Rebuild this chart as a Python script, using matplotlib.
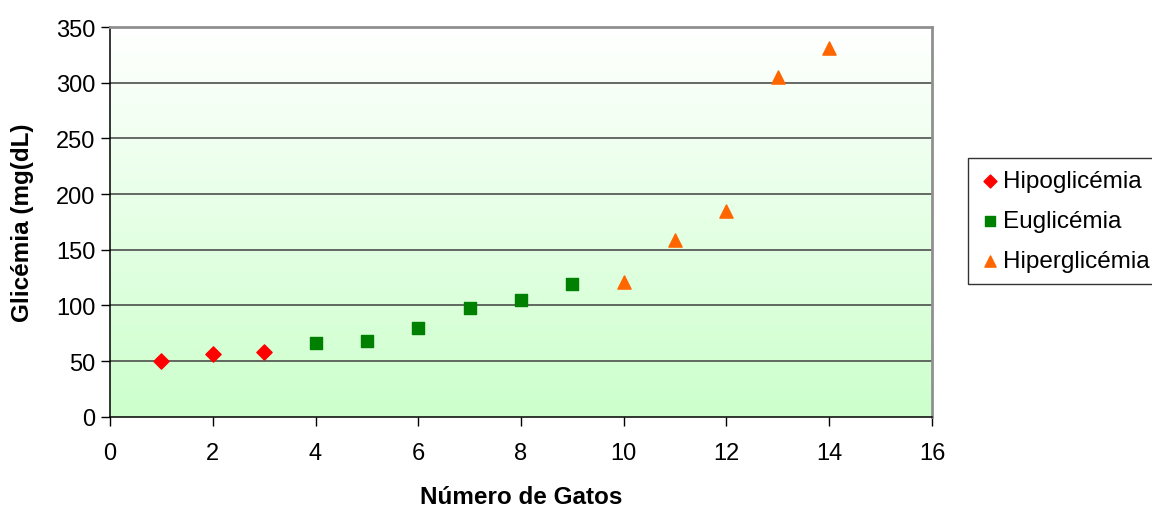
import matplotlib
matplotlib.use('Agg')
import matplotlib.pyplot as plt
import numpy as np

plt.rcParams['font.family'] = ['Liberation Sans', 'DejaVu Sans']

# data
hipo_x = [1, 2, 3]
hipo_y = [50, 56, 58]
eu_x = [4, 5, 6, 7, 8, 9]
eu_y = [66, 68, 80, 98, 105, 119]
hiper_x = [10, 11, 12, 13, 14]
hiper_y = [121, 159, 185, 305, 331]

fig = plt.figure(figsize=(11.52, 5.1), dpi=100)
ax = fig.add_axes([0.0955, 0.181, 0.7135, 0.764])

# white -> light green gradient background
grad = np.linspace(0, 1, 256).reshape(-1, 1)
top = np.array([1.0, 1.0, 1.0])
bot = np.array([204, 255, 204]) / 255
img = top + (bot - top) * grad[:, :, None]
ax.imshow(img, extent=[0, 1, 0, 1], transform=ax.transAxes, aspect='auto', zorder=0)

for y in range(50, 350, 50):
    ax.axhline(y, color='#404040', lw=1.1, zorder=1)

ax.scatter(hipo_x, hipo_y, marker='D', s=60, color='#ff0000', zorder=3, label='Hipoglicémia')
ax.scatter(eu_x, eu_y, marker='s', s=75, color='#008000', zorder=3, label='Euglicémia')
ax.scatter(hiper_x, hiper_y, marker='^', s=90, color='#ff6600', zorder=3, label='Hiperglicémia')

ax.set_xlim(0, 16)
ax.set_ylim(0, 350)
ax.set_xticks(range(0, 17, 2))
ax.set_yticks(range(0, 351, 50))
ax.tick_params(labelsize=17, direction='out', length=6.5, width=1, colors='black')
ax.tick_params(axis='x', pad=12)
ax.tick_params(axis='y', pad=4)

for s in ['left', 'bottom']:
    ax.spines[s].set_color('black')
    ax.spines[s].set_linewidth(1.1)
for s in ['top', 'right']:
    ax.spines[s].set_color('#909090')
    ax.spines[s].set_linewidth(2)

ax.set_xlabel('Número de Gatos', fontsize=17.5, fontweight='bold', labelpad=15)
ax.set_ylabel('Glicémia (mg(dL)', fontsize=17.5, fontweight='bold', labelpad=16)

leg = fig.legend(loc='upper left', bbox_to_anchor=(0.8405, 0.688), fontsize=17.5,
                 frameon=True, fancybox=False, edgecolor='black', handletextpad=0.15,
                 handlelength=0.8, markerscale=0.85, borderpad=0.5, labelspacing=0.74,
                 borderaxespad=0)
leg.get_frame().set_linewidth(1)

fig.savefig('out.png', dpi=100)
